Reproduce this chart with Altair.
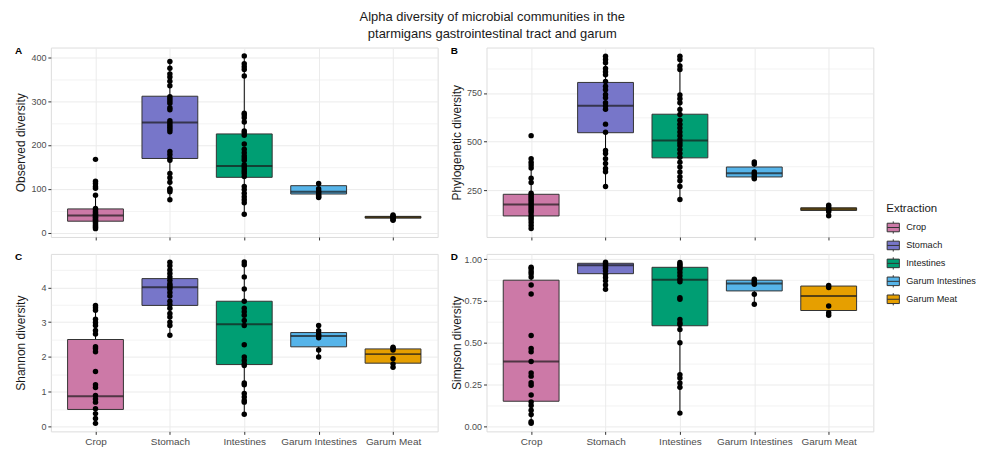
import altair as alt
import pandas as pd

cats = ["Crop", "Stomach", "Intestines", "Garum Intestines", "Garum Meat"]
colors = ["#CC79A7", "#7776C9", "#009E73", "#56B4E9", "#E69F00"]

# ---------- Observed diversity (A) ----------
obs_q1 = [26, 169, 126, 88, 33]
obs_med = [39, 251, 152, 93, 35]
obs_q3 = [54, 311, 225, 107, 37]
obs_lo = [9, 75, 42, 80, 28]
obs_hi = [85, 390, 403, 112, 40]
obs_pts = {
    "Crop": [167, 117, 112, 105, 101, 85, 55, 52, 48, 45, 42, 40, 38, 35, 33, 30, 28, 25, 22, 18, 15, 12, 9],
    "Stomach": [390, 375, 362, 355, 345, 335, 310, 305, 300, 295, 285, 280, 255, 250, 245, 240, 235, 230,
                185, 178, 170, 165, 135, 125, 115, 100, 97, 93, 75],
    "Intestines": [403, 385, 378, 372, 357, 272, 268, 262, 252, 232, 228, 222, 202, 190, 182, 175, 170, 165,
                   155, 150, 145, 140, 135, 128, 105, 98, 90, 82, 75, 68, 42],
    "Garum Intestines": [112, 100, 95, 92, 88, 85, 82, 80],
    "Garum Meat": [40, 38, 36, 35, 33, 30, 28],
}

# ---------- Phylogenetic diversity (B) ----------
phy_q1 = [119, 546, 417, 319, 147]
phy_med = [178, 684, 506, 338, 155]
phy_q3 = [230, 804, 641, 370, 161]
phy_lo = [55, 270, 200, 310, 120]
phy_hi = [395, 939, 939, 396, 174]
phy_pts = {
    "Crop": [531, 413, 395, 380, 365, 312, 290, 235, 225, 215, 205, 195, 185, 175, 165, 155, 145, 135,
             120, 110, 100, 85, 70, 55],
    "Stomach": [939, 922, 905, 876, 859, 843, 809, 784, 767, 742, 725, 700, 683, 666, 590, 548, 455, 439,
                413, 388, 363, 346, 270],
    "Intestines": [939, 922, 888, 870, 740, 720, 700, 665, 640, 610, 590, 570, 550, 530, 510, 495, 480,
                   460, 440, 420, 395, 370, 345, 320, 300, 270, 203],
    "Garum Intestines": [396, 385, 345, 335, 325, 315, 310],
    "Garum Meat": [174, 165, 155, 150, 140, 120],
}

# ---------- Shannon diversity (C) ----------
sha_q1 = [0.49, 3.48, 1.78, 2.29, 1.82]
sha_med = [0.87, 4.00, 2.94, 2.60, 2.08]
sha_q3 = [2.50, 4.25, 3.60, 2.70, 2.23]
sha_lo = [0.09, 2.62, 0.35, 2.00, 1.70]
sha_hi = [3.48, 4.72, 4.73, 2.90, 2.28]
sha_pts = {
    "Crop": [3.48, 3.41, 3.34, 3.08, 2.99, 2.90, 2.76, 2.66, 2.29, 2.24, 2.15, 1.58, 1.20, 1.12, 0.89,
             0.79, 0.70, 0.51, 0.37, 0.23, 0.09],
    "Stomach": [4.72, 4.62, 4.50, 4.40, 4.30, 4.20, 4.10, 4.05, 4.00, 3.95, 3.85, 3.75, 3.60, 3.50, 3.40,
                3.25, 3.15, 3.00, 2.90, 2.62],
    "Intestines": [4.73, 4.65, 4.30, 3.95, 3.60, 3.40, 3.30, 3.20, 3.05, 2.90, 2.35, 2.00, 1.90, 1.80,
                   1.75, 1.25, 1.20, 0.95, 0.85, 0.75, 0.70, 0.35],
    "Garum Intestines": [2.90, 2.75, 2.65, 2.60, 2.55, 2.20, 2.00],
    "Garum Meat": [2.28, 2.25, 2.20, 1.95, 1.80, 1.70],
}

# ---------- Simpson diversity (D) ----------
sim_q1 = [0.151, 0.913, 0.602, 0.810, 0.693]
sim_med = [0.388, 0.963, 0.876, 0.854, 0.779]
sim_q3 = [0.874, 0.975, 0.951, 0.874, 0.839]
sim_lo = [0.019, 0.820, 0.080, 0.730, 0.665]
sim_hi = [0.951, 0.982, 0.980, 0.880, 0.843]
sim_pts = {
    "Crop": [0.951, 0.942, 0.926, 0.913, 0.893, 0.845, 0.792, 0.544, 0.466, 0.447, 0.388, 0.320, 0.301,
             0.262, 0.247, 0.188, 0.146, 0.126, 0.097, 0.072, 0.029, 0.019],
    "Stomach": [0.982, 0.975, 0.965, 0.955, 0.945, 0.930, 0.910, 0.890, 0.870, 0.845, 0.820],
    "Intestines": [0.980, 0.970, 0.960, 0.950, 0.940, 0.920, 0.900, 0.880, 0.865, 0.770, 0.760, 0.640,
                   0.620, 0.610, 0.580, 0.500, 0.310, 0.290, 0.260, 0.235, 0.080],
    "Garum Intestines": [0.880, 0.870, 0.860, 0.850, 0.790, 0.730],
    "Garum Meat": [0.843, 0.830, 0.720, 0.680, 0.665],
}

FONT = "Liberation Sans"
PW = 388
BOX_W = 56
GRID = "#EBEBEB"


def box_frame(q1, med, q3, lo, hi):
    return pd.DataFrame({"Extraction": cats, "q1": q1, "med": med, "q3": q3, "lo": lo, "hi": hi})


def pts_frame(d):
    rows = [(k, v) for k in cats for v in d[k]]
    return pd.DataFrame(rows, columns=["Extraction", "value"])


def panel(bdf, pdf, ytitle, domain, major, minor, letter, height, bottom, fmt):
    xaxis = alt.Axis(
        title=None, labels=bottom, ticks=True, tickSize=3, tickColor="#333333", domain=False,
        grid=True, gridColor=GRID, gridWidth=1, labelFontSize=10, labelColor="#4D4D4D",
        labelPadding=2, labelFont=FONT, labelAngle=0,
    )
    x = alt.X("Extraction:N", sort=cats, scale=alt.Scale(type="point", padding=0.6), axis=xaxis)
    yscale = alt.Scale(domain=domain, nice=False, zero=False)
    yaxis = alt.Axis(
        title=ytitle, orient="left", values=major, format=fmt, grid=True, gridColor=GRID, gridWidth=1,
        tickSize=3, tickColor="#333333", domain=False, labelFontSize=9, labelColor="#4D4D4D",
        labelFont=FONT, labelPadding=2, titleFont=FONT, titleFontSize=12, titleFontWeight="normal",
        titleColor="#1A1A1A", titleX=-30, titleBaseline="middle",
    )
    minor_axis = alt.Axis(
        title=None, values=minor, grid=True, gridColor=GRID, gridWidth=0.6, ticks=False,
        labels=False, domain=False, orient="left",
    )
    base_b = alt.Chart(bdf)
    whisk = base_b.mark_rule(color="black", strokeWidth=1).encode(
        x=x, y=alt.Y("lo:Q", scale=yscale, axis=yaxis), y2="hi:Q"
    )
    minor_layer = base_b.mark_rule(opacity=0).encode(
        x=x, y=alt.Y("lo:Q", scale=yscale, axis=minor_axis)
    )
    boxes = base_b.mark_bar(size=BOX_W, stroke="#333333", strokeWidth=1).encode(
        x=x,
        y=alt.Y("q1:Q", scale=yscale, axis=None),
        y2="q3:Q",
        color=alt.Color(
            "Extraction:N",
            sort=cats,
            scale=alt.Scale(domain=cats, range=colors),
            legend=alt.Legend(
                title="Extraction", orient="none", legendX=838, legendY=156, padding=0,
                symbolType="M-1,-0.7H1V0.7H-1Z M-1,0H1 M0,-1V-0.7 M0,0.7V1",
                symbolSize=150, symbolStrokeColor="#333333", symbolStrokeWidth=1,
                labelFontSize=9.2, labelFont=FONT, labelColor="#1A1A1A", labelOffset=6,
                titleFontSize=11.5, titleFont=FONT, titleFontWeight="normal", titleColor="#1A1A1A",
                rowPadding=0, titlePadding=6, symbolOffset=0,
            ),
        ),
    )
    meds = base_b.mark_tick(size=BOX_W, thickness=2, color="#1A1A1A").encode(
        x=x, y=alt.Y("med:Q", scale=yscale, axis=None)
    )
    dots = alt.Chart(pdf).mark_circle(size=30, color="black", opacity=1).encode(
        x=x, y=alt.Y("value:Q", scale=yscale, axis=None)
    )
    return (
        alt.layer(whisk, minor_layer, boxes, meds, dots)
        .resolve_axis(y="independent")
        .properties(
            width=PW, height=height,
            title=alt.TitleParams(
                letter, anchor="start", frame="bounds", fontSize=10, fontWeight="bold",
                font=FONT, offset=0, dy=8, color="black",
            ),
        )
    )


pA = panel(box_frame(obs_q1, obs_med, obs_q3, obs_lo, obs_hi), pts_frame(obs_pts), "Observed diversity",
           [-10, 422], [0, 100, 200, 300, 400], [50, 150, 250, 350], "A", 190, False, "d")
pB = panel(box_frame(phy_q1, phy_med, phy_q3, phy_lo, phy_hi), pts_frame(phy_pts), "Phylogenetic diversity",
           [11, 983], [250, 500, 750], [125, 375, 625, 875], "B", 190, False, "d")
pC = panel(box_frame(sha_q1, sha_med, sha_q3, sha_lo, sha_hi), pts_frame(sha_pts), "Shannon diversity",
           [-0.14, 4.96], [0, 1, 2, 3, 4], [0.5, 1.5, 2.5, 3.5, 4.5], "C", 178, True, "d")
pD = panel(box_frame(sim_q1, sim_med, sim_q3, sim_lo, sim_hi), pts_frame(sim_pts), "Simpson diversity",
           [-0.029, 1.031], [0, 0.25, 0.5, 0.75, 1.0], [0.125, 0.375, 0.625, 0.875], "D", 178, True, ".2f")

chart = (
    alt.vconcat(
        alt.hconcat(pA, pB, spacing=11),
        alt.hconcat(pC, pD, spacing=11),
        spacing=10,
    )
    .properties(
        title=alt.TitleParams(
            ["Alpha diversity of microbial communities in the", "ptarmigans gastrointestinal tract and garum"],
            fontSize=13, fontWeight="normal", font=FONT, color="#1A1A1A", anchor="middle",
            lineHeight=17, offset=4, dx=-3,
        ),
        padding={"left": 6, "top": 2, "right": 0, "bottom": 0},
    )
    .configure_view(stroke="#9A9A9A", strokeWidth=1)
    .configure(font=FONT)
)

chart.save("out.html", embed_options={"renderer": "svg", "actions": False})
